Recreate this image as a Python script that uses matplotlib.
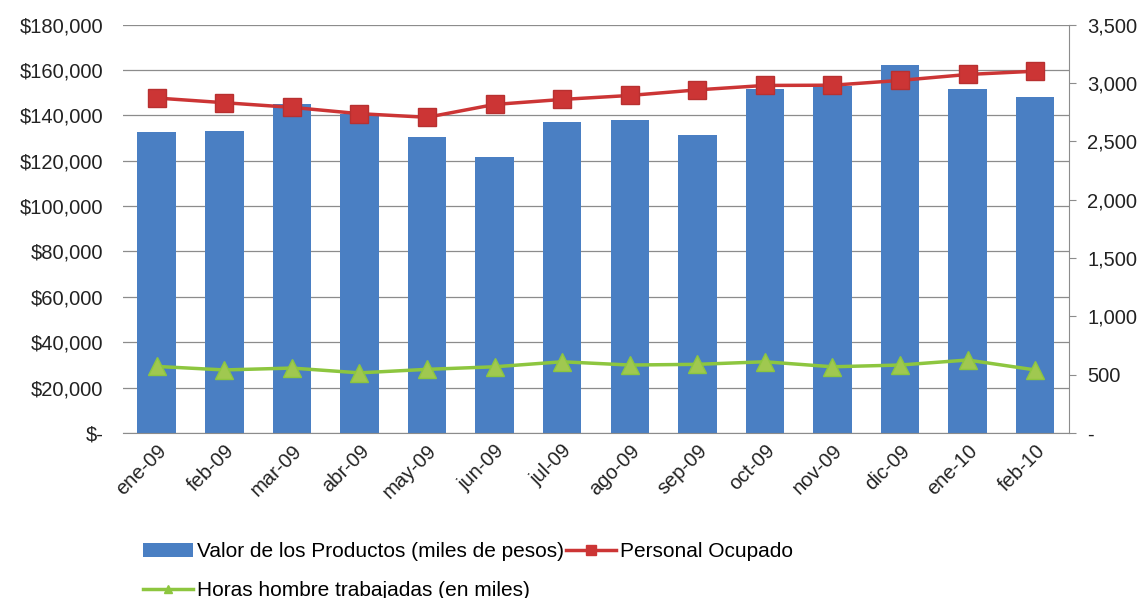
import matplotlib.pyplot as plt
from matplotlib.ticker import FuncFormatter
from matplotlib.lines import Line2D
import numpy as np

plt.rcParams['font.family'] = ['Liberation Sans', 'DejaVu Sans']

meses = ['ene-09', 'feb-09', 'mar-09', 'abr-09', 'may-09', 'jun-09', 'jul-09',
         'ago-09', 'sep-09', 'oct-09', 'nov-09', 'dic-09', 'ene-10', 'feb-10']
valor_productos = [132500, 133000, 145000, 140700, 130500, 121500, 137000,
                   137800, 131300, 151700, 152700, 162300, 151700, 148000]
personal_ocupado = [2870, 2830, 2790, 2736, 2705, 2815, 2858,
                    2892, 2940, 2978, 2980, 3021, 3072, 3100]
horas_hombre = [570, 540, 556, 515, 545, 567, 610,
                582, 588, 610, 567, 582, 625, 540]

azul = '#4a7fc3'
rojo = '#cc3535'
verde = '#8dc63f'
gris = '#8c8c8c'
texto = '#222222'
fs = 14.5

fig = plt.figure(figsize=(11.47, 5.98), dpi=100)
ax = fig.add_axes([0.1072, 0.276, 0.8248, 0.683])
ax2 = ax.twinx()

x = np.arange(len(meses))
barras = ax.bar(x, valor_productos, width=0.57, color=azul, zorder=2)
ax2.plot(x, personal_ocupado, color=rojo, lw=2.5, marker='s', ms=13,
         mfc=rojo, mec='#b83030')
ax2.plot(x, horas_hombre, color=verde, lw=2.5, marker='^', ms=13,
         mfc='#a0c850', mec=verde)

ax.set_xlim(-0.5, len(meses) - 0.5)
ax.set_ylim(0, 180000)
ax.set_yticks(np.arange(0, 180001, 20000))
ax.yaxis.set_major_formatter(FuncFormatter(
    lambda v, p: '$-' if v == 0 else '${:,.0f}'.format(v)))
ax2.set_ylim(0, 3500)
ax2.set_yticks(np.arange(0, 3501, 500))
ax2.yaxis.set_major_formatter(FuncFormatter(
    lambda v, p: '-' if v == 0 else '{:,.0f}'.format(v)))

ax.grid(axis='y', color=gris, lw=0.9, zorder=0)
ax.set_axisbelow(True)

for a in (ax, ax2):
    for s in ('top', 'left'):
        a.spines[s].set_visible(False)
    a.spines['bottom'].set_color(gris)
    a.spines['right'].set_color(gris)
ax2.spines['bottom'].set_visible(False)
ax.spines['right'].set_visible(False)

ax.tick_params(axis='y', length=0, labelsize=fs, pad=14, labelcolor=texto)
ax2.tick_params(axis='y', length=5, color=gris, labelsize=fs, pad=8,
                labelcolor=texto)
ax.tick_params(axis='x', length=0, labelsize=fs, pad=6, labelcolor=texto)
ax.set_xticks(x)
ax.set_xticklabels(meses, rotation=45, ha='right', rotation_mode='anchor')

# legend handles with the small markers Excel uses
h_rojo = Line2D([], [], color=rojo, lw=2.5, marker='s', ms=7, mfc=rojo, mec=rojo)
h_verde = Line2D([], [], color=verde, lw=2.5, marker='^', ms=6, mfc=verde, mec=verde)
fig.legend([barras, h_verde, h_rojo],
           ['Valor de los Productos (miles de pesos)',
            'Horas hombre trabajadas (en miles)', 'Personal Ocupado'],
           ncol=2, loc='upper left', bbox_to_anchor=(0.1245, 0.093),
           frameon=False, fontsize=15, handlelength=2.4,
           handletextpad=0.2, columnspacing=0.1, labelspacing=0.95,
           borderpad=0, borderaxespad=0)

fig.savefig('out.png', dpi=100)
